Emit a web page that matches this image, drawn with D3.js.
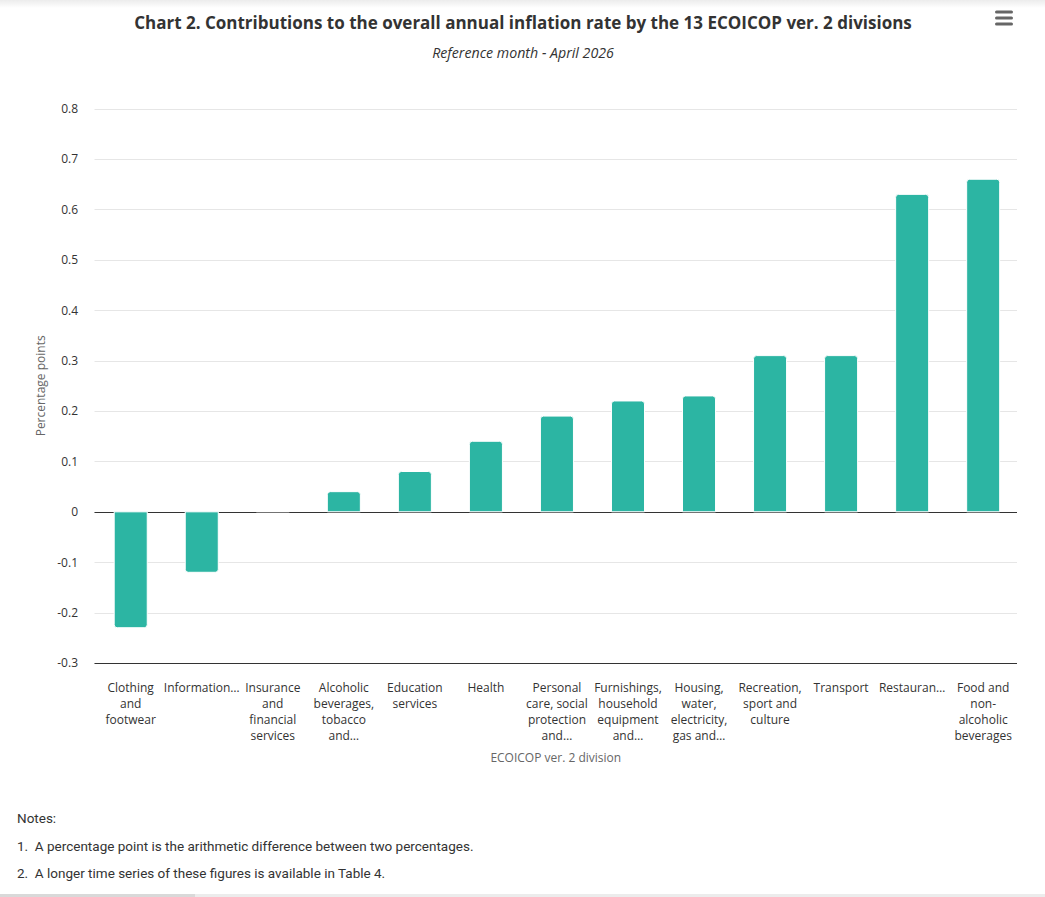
<!DOCTYPE html>
<html>
<head>
<meta charset="utf-8">
<script src="https://cdn.jsdelivr.net/npm/d3@7"></script>
<style>
  html, body { margin: 0; padding: 0; background: #fff; }
  svg { display: block; }
</style>
</head>
<body>
<svg id="chart" width="1045" height="897"></svg>
<script>
// ---- data ----
const categories = [
  "Clothing and footwear",
  "Information…",
  "Insurance and financial services",
  "Alcoholic beverages, tobacco and…",
  "Education services",
  "Health",
  "Personal care, social protection and…",
  "Furnishings, household equipment and…",
  "Housing, water, electricity, gas and…",
  "Recreation, sport and culture",
  "Transport",
  "Restauran…",
  "Food and non-alcoholic beverages"
];
const categoryLabelLines = [
  ["Clothing", "and", "footwear"],
  ["Information…"],
  ["Insurance", "and", "financial", "services"],
  ["Alcoholic", "beverages,", "tobacco", "and…"],
  ["Education", "services"],
  ["Health"],
  ["Personal", "care, social", "protection", "and…"],
  ["Furnishings,", "household", "equipment", "and…"],
  ["Housing,", "water,", "electricity,", "gas and…"],
  ["Recreation,", "sport and", "culture"],
  ["Transport"],
  ["Restauran…"],
  ["Food and", "non-", "alcoholic", "beverages"]
];
const values = [-0.23, -0.12, 0.00, 0.04, 0.08, 0.14, 0.19, 0.22, 0.23, 0.31, 0.31, 0.63, 0.66];
const yTicks = [-0.3, -0.2, -0.1, 0, 0.1, 0.2, 0.3, 0.4, 0.5, 0.6, 0.7, 0.8];
const yTickLabels = ["-0.3", "-0.2", "-0.1", "0", "0.1", "0.2", "0.3", "0.4", "0.5", "0.6", "0.7", "0.8"];
const titleText = "Chart 2. Contributions to the overall annual inflation rate by the 13 ECOICOP ver. 2 divisions";
const subtitleText = "Reference month - April 2026";
const yAxisTitle = "Percentage points";
const xAxisTitle = "ECOICOP ver. 2 division";
const notes = [
  "Notes:",
  "1.  A percentage point is the arithmetic difference between two percentages.",
  "2.  A longer time series of these figures is available in Table 4."
];

// ---- layout ----
const svg = d3.select("#chart");
const FONT = "'Open Sans', 'Segoe UI', sans-serif";
const plot = { left: 94.5, right: 1017, top: 108.7, bottom: 663 };

const x = d3.scaleBand().domain(categories).range([95.2, 1018.7]).paddingInner(0.535).paddingOuter(0.2675);
const y = d3.scaleLinear().domain([-0.3, 0.8]).range([plot.bottom, plot.top]);

// top grey fade
const defs = svg.append("defs");
const grad = defs.append("linearGradient").attr("id", "topfade").attr("x1", 0).attr("y1", 0).attr("x2", 0).attr("y2", 1);
grad.append("stop").attr("offset", 0).attr("stop-color", "#ececec");
grad.append("stop").attr("offset", 1).attr("stop-color", "#ffffff");
svg.append("rect").attr("x", 0).attr("y", 0).attr("width", 1045).attr("height", 8).attr("fill", "url(#topfade)");

// title & subtitle
svg.append("text").attr("x", 523).attr("y", 29).attr("text-anchor", "middle")
  .attr("font-family", FONT).attr("font-size", 17).attr("font-weight", "bold").attr("fill", "#333")
  .text(titleText);
svg.append("text").attr("x", 523).attr("y", 58).attr("text-anchor", "middle")
  .attr("font-family", FONT).attr("font-size", 14.2).attr("font-style", "italic").attr("fill", "#333")
  .text(subtitleText);

// hamburger menu
const menu = svg.append("g").attr("fill", "#666");
[12, 18, 24].forEach(yy => {
  menu.append("rect").attr("x", 995).attr("y", yy - 1.5).attr("width", 18).attr("height", 3).attr("rx", 1.5);
});

// gridlines
svg.append("g").selectAll("line").data(yTicks).join("line")
  .attr("x1", plot.left).attr("x2", plot.right)
  .attr("y1", d => Math.round(y(d)) + 0.5).attr("y2", d => Math.round(y(d)) + 0.5)
  .attr("stroke", "#e6e6e6").attr("stroke-width", 1);

// y axis labels
const yAxis = d3.axisLeft(y).tickValues(yTicks).tickSize(0).tickPadding(0)
  .tickFormat((d, i) => yTickLabels[i]);
const yg = svg.append("g").attr("transform", `translate(${78},0)`).call(yAxis);
yg.select(".domain").remove();
yg.selectAll("text").attr("font-family", FONT).attr("font-size", 12).attr("fill", "#333").attr("dy", "0.32em");

// y axis title
svg.append("text").attr("transform", `translate(45,${(plot.top + plot.bottom) / 2}) rotate(-90)`)
  .attr("text-anchor", "middle").attr("font-family", FONT).attr("font-size", 12).attr("fill", "#666")
  .text(yAxisTitle);

// bottom axis line
svg.append("line").attr("x1", plot.left).attr("x2", plot.right)
  .attr("y1", Math.round(y(-0.3)) + 0.5).attr("y2", Math.round(y(-0.3)) + 0.5)
  .attr("stroke", "#333").attr("stroke-width", 1);

// zero line
svg.append("line").attr("x1", plot.left).attr("x2", plot.right)
  .attr("y1", Math.round(y(0)) + 0.5).attr("y2", Math.round(y(0)) + 0.5)
  .attr("stroke", "#333").attr("stroke-width", 1);

// bars
const r = 3;
function barPath(d, i) {
  const x0 = x(categories[i]), w = x.bandwidth();
  const y0 = y(0), y1 = y(d);
  if (Math.abs(y1 - y0) < 0.5) {
    return `M${x0},${y0}H${x0 + w}`;
  }
  if (d > 0) {
    const rr = Math.min(r, y0 - y1);
    return `M${x0},${y0}V${y1 + rr}Q${x0},${y1} ${x0 + rr},${y1}H${x0 + w - rr}Q${x0 + w},${y1} ${x0 + w},${y1 + rr}V${y0}Z`;
  } else {
    const rr = Math.min(r, y1 - y0);
    return `M${x0},${y0}V${y1 - rr}Q${x0},${y1} ${x0 + rr},${y1}H${x0 + w - rr}Q${x0 + w},${y1} ${x0 + w},${y1 - rr}V${y0}Z`;
  }
}
svg.append("g").selectAll("path").data(values).join("path")
  .attr("d", (d, i) => barPath(d, i))
  .attr("fill", "#2cb5a3")
  .attr("stroke", "#ffffff").attr("stroke-width", 1);

// x labels
const xl = svg.append("g");
categoryLabelLines.forEach((lines, i) => {
  const cx = x(categories[i]) + x.bandwidth() / 2;
  const t = xl.append("text").attr("x", cx).attr("y", 692).attr("text-anchor", "middle")
    .attr("font-family", FONT).attr("font-size", 12).attr("fill", "#333");
  lines.forEach((ln, j) => {
    t.append("tspan").attr("x", cx).attr("dy", j === 0 ? 0 : 16).text(ln);
  });
});

// x axis title
svg.append("text").attr("x", (plot.left + plot.right) / 2).attr("y", 762).attr("text-anchor", "middle")
  .attr("font-family", FONT).attr("font-size", 12).attr("fill", "#666")
  .text(xAxisTitle);

// notes
const noteY = [823, 851, 878];
notes.forEach((n, i) => {
  svg.append("text").attr("x", 17).attr("y", noteY[i])
    .attr("font-family", "Roboto, sans-serif").attr("font-size", 13.5).attr("fill", "#333")
    .style("white-space", "pre")
    .text(n);
});

// bottom strip
svg.append("rect").attr("x", 0).attr("y", 894).attr("width", 1045).attr("height", 3).attr("fill", "#ececec");
svg.append("rect").attr("x", 0).attr("y", 894).attr("width", 195).attr("height", 3).attr("fill", "#d9d9d9");
</script>
</body>
</html>
